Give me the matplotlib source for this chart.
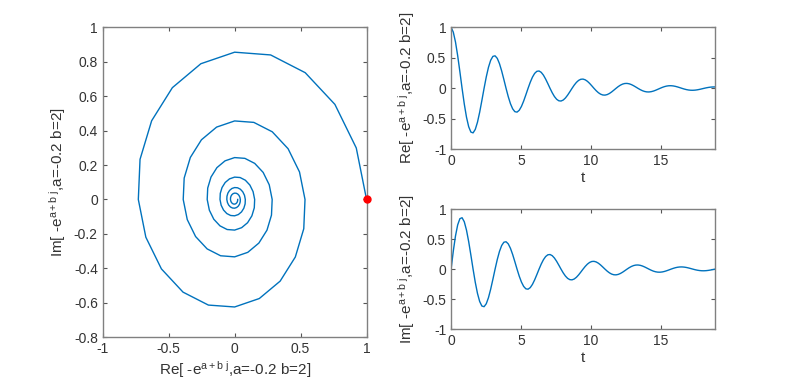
import matplotlib
matplotlib.use("Agg")
import matplotlib.pyplot as plt

plt.rcParams['font.family'] = ['Liberation Sans', 'DejaVu Sans']
plt.rcParams['mathtext.fontset'] = 'custom'
plt.rcParams['mathtext.rm'] = 'Liberation Sans'
plt.rcParams['mathtext.it'] = 'Liberation Sans'
plt.rcParams['mathtext.default'] = 'regular'
plt.rcParams['axes.unicode_minus'] = False

# samples of e^{(a+bj)t}, a=-0.2, b=2 (20 per turn)
t = [0, 0.157, 0.314, 0.471, 0.628, 0.785, 0.942, 1.100, 1.257, 1.414,
     1.571, 1.728, 1.885, 2.042, 2.199, 2.356, 2.513, 2.670, 2.827, 2.985,
     3.142, 3.299, 3.456, 3.613, 3.770, 3.927, 4.084, 4.241, 4.398, 4.555,
     4.712, 4.869, 5.027, 5.184, 5.341, 5.498, 5.655, 5.812, 5.969, 6.126,
     6.283, 6.440, 6.597, 6.754, 6.912, 7.069, 7.226, 7.383, 7.540, 7.697,
     7.854, 8.011, 8.168, 8.325, 8.482, 8.639, 8.796, 8.954, 9.111, 9.268,
     9.425, 9.582, 9.739, 9.896, 10.053, 10.210, 10.367, 10.524, 10.681, 10.838,
     10.996, 11.153, 11.310, 11.467, 11.624, 11.781, 11.938, 12.095, 12.252, 12.409,
     12.566, 12.723, 12.881, 13.038, 13.195, 13.352, 13.509, 13.666, 13.823, 13.980,
     14.137, 14.294, 14.451, 14.608, 14.765, 14.923, 15.080, 15.237, 15.394, 15.551,
     15.708, 15.865, 16.022, 16.179, 16.336, 16.493, 16.650, 16.808, 16.965, 17.122,
     17.279, 17.436, 17.593, 17.750, 17.907, 18.064, 18.221, 18.378, 18.535, 18.692,
     18.850]

re_vals = [1.000, 0.922, 0.760, 0.535, 0.273, 0.000, -0.256, -0.472, -0.629, -0.717,
           -0.730, -0.673, -0.555, -0.391, -0.199, 0.000, 0.187, 0.345, 0.460, 0.524,
           0.5335, 0.4917, 0.4053, 0.2854, 0.1454, 0.0, -0.1365, -0.2517, -0.3357, -0.3824,
           -0.3897, -0.3591, -0.2960, -0.2084, -0.1062, 0.0, 0.0997, 0.1838, 0.2452, 0.2793,
           0.2846, 0.2623, 0.2162, 0.1522, 0.0776, 0.0, -0.0728, -0.1343, -0.1791, -0.2040,
           -0.2079, -0.1916, -0.1579, -0.1112, -0.0567, 0.0, 0.0532, 0.0981, 0.1308, 0.1490,
           0.1518, 0.1399, 0.1154, 0.0812, 0.0414, 0.0, -0.0389, -0.0716, -0.0955, -0.1088,
           -0.1109, -0.1022, -0.0843, -0.0593, -0.0302, 0.0, 0.0284, 0.0523, 0.0698, 0.0795,
           0.0810, 0.0747, 0.0615, 0.0433, 0.0221, 0.0, -0.0207, -0.0382, -0.0510, -0.0581,
           -0.0592, -0.0545, -0.0450, -0.0316, -0.0161, 0.0, 0.0151, 0.0279, 0.0372, 0.0424,
           0.0432, 0.0398, 0.0328, 0.0231, 0.0118, 0.0, -0.0111, -0.0204, -0.0272, -0.0310,
           -0.0316, -0.0291, -0.0240, -0.0169, -0.0086, 0.0, 0.0081, 0.0149, 0.0199, 0.0226,
           0.0231]

im_vals = [0.000, 0.299, 0.552, 0.736, 0.839, 0.855, 0.788, 0.649, 0.457, 0.233,
           0.000, -0.219, -0.403, -0.538, -0.613, -0.624, -0.575, -0.474, -0.334, -0.170,
           0.0, 0.1598, 0.2945, 0.3928, 0.4475, 0.4559, 0.4202, 0.3464, 0.2439, 0.1243,
           0.0, -0.1167, -0.2151, -0.2869, -0.3268, -0.3330, -0.3069, -0.2530, -0.1781, -0.0908,
           0.0, 0.0852, 0.1571, 0.2095, 0.2387, 0.2432, 0.2242, 0.1848, 0.1301, 0.0663,
           0.0, -0.0623, -0.1147, -0.1531, -0.1744, -0.1777, -0.1637, -0.1350, -0.0950, -0.0484,
           0.0, 0.0455, 0.0838, 0.1118, 0.1274, 0.1298, 0.1196, 0.0986, 0.0694, 0.0354,
           0.0, -0.0332, -0.0612, -0.0817, -0.0930, -0.0948, -0.0874, -0.0720, -0.0507, -0.0258,
           0.0, 0.0243, 0.0447, 0.0596, 0.0679, 0.0692, 0.0638, 0.0526, 0.0370, 0.0189,
           0.0, -0.0177, -0.0327, -0.0436, -0.0496, -0.0506, -0.0466, -0.0384, -0.0270, -0.0138,
           0.0, 0.0129, 0.0239, 0.0318, 0.0362, 0.0369, 0.0340, 0.0281, 0.0198, 0.0101,
           0.0, -0.0095, -0.0174, -0.0232, -0.0265, -0.0270, -0.0249, -0.0205, -0.0144, -0.0074,
           0.0]

start_point = (1.0, 0.0)

blue = '#0072BD'
edge = '#808080'
txt = '#333333'
re_label = r'Re[ -e$^{a+b\ j}$,a=-0.2 b=2]'
im_label = r'Im[ -e$^{a+b\ j}$,a=-0.2 b=2]'

fig = plt.figure(figsize=(7.9, 3.8), dpi=100)
ax1 = fig.add_axes([0.130, 0.1124, 0.334, 0.816])
ax2 = fig.add_axes([0.571, 0.607, 0.334, 0.321])
ax3 = fig.add_axes([0.571, 0.1334, 0.334, 0.3166])


def style(ax):
    for s in ax.spines.values():
        s.set_color(edge)
        s.set_linewidth(1.0)
    ax.tick_params(direction='in', length=3, width=0.8, color='#555555',
                   labelcolor=txt, labelsize=10, top=True, right=True)


ax1.plot(re_vals, im_vals, color=blue, linewidth=1.0)
ax1.plot([start_point[0]], [start_point[1]], 'o', color='red', markersize=5, clip_on=False, zorder=5)
ax1.set_xlim(-1, 1)
ax1.set_ylim(-0.8, 1)
ax1.set_xticks([-1, -0.5, 0, 0.5, 1])
ax1.set_xticklabels(['-1', '-0.5', '0', '0.5', '1'])
ax1.set_yticks([-0.8, -0.6, -0.4, -0.2, 0, 0.2, 0.4, 0.6, 0.8, 1])
ax1.set_yticklabels(['-0.8', '-0.6', '-0.4', '-0.2', '0', '0.2', '0.4', '0.6', '0.8', '1'])
ax1.set_xlabel(re_label, fontsize=11, color=txt, labelpad=2)
ax1.set_ylabel(im_label, fontsize=11, color=txt)
style(ax1)

for ax, vals, lab in [(ax2, re_vals, re_label), (ax3, im_vals, im_label)]:
    ax.plot(t, vals, color=blue, linewidth=1.0)
    ax.set_xlim(0, t[-1])
    ax.set_ylim(-1, 1)
    ax.set_xticks([0, 5, 10, 15])
    ax.set_yticks([-1, -0.5, 0, 0.5, 1])
    ax.set_yticklabels(['-1', '-0.5', '0', '0.5', '1'])
    ax.set_xlabel('t', fontsize=11, color=txt, labelpad=2)
    ax.set_ylabel(lab, fontsize=11, color=txt)
    style(ax)

fig.savefig('out.png', dpi=100)
